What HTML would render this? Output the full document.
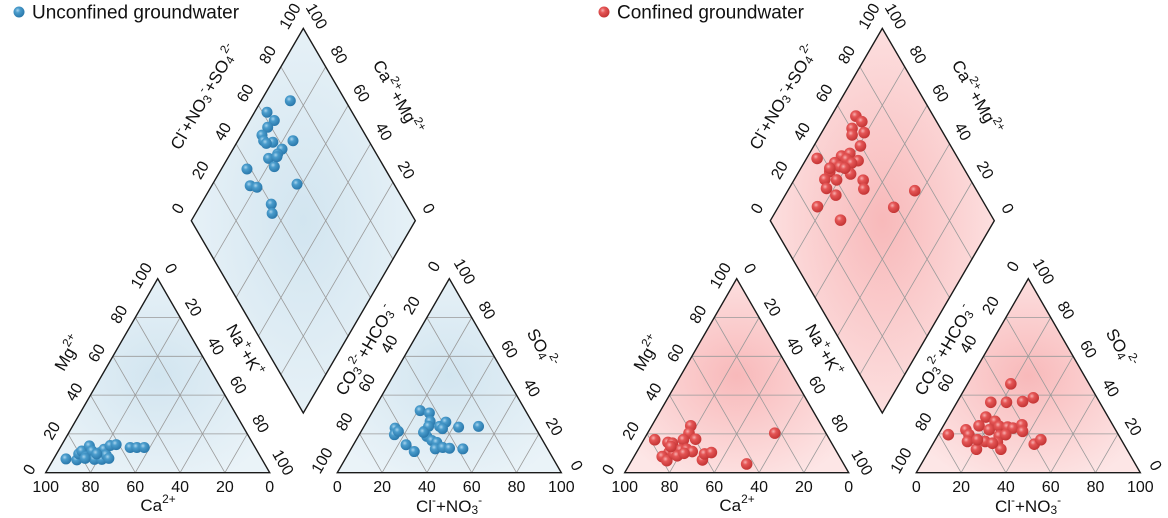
<!DOCTYPE html>
<html><head><meta charset="utf-8"><style>
html,body{margin:0;padding:0;background:#fff;}
svg{display:block;font-family:"Liberation Sans",Arial,sans-serif;}
</style></head><body>
<svg id="chart" width="1168" height="518" viewBox="0 0 1168 518" xmlns="http://www.w3.org/2000/svg">
<defs>
<radialGradient id="fillBlue" cx="50%" cy="50%" r="60%"><stop offset="0" stop-color="#d2e5f0"/><stop offset="1" stop-color="#eaf3f8"/></radialGradient>
<radialGradient id="fillRed" cx="50%" cy="50%" r="60%"><stop offset="0" stop-color="#f8b9ba"/><stop offset="1" stop-color="#fde6e6"/></radialGradient>
<radialGradient id="ballBlue" cx="38%" cy="35%" r="65%"><stop offset="0" stop-color="#a8d4ee"/><stop offset="0.35" stop-color="#4a9ccc"/><stop offset="1" stop-color="#2a78ab"/></radialGradient>
<radialGradient id="ballRed" cx="38%" cy="35%" r="65%"><stop offset="0" stop-color="#f8b0b0"/><stop offset="0.35" stop-color="#e55656"/><stop offset="1" stop-color="#c43535"/></radialGradient>
</defs>
</svg>
<script>
// ---- Unconfined (blue) data ----
const blueCatCa = [87.4,82.8,80.4,78.3,77.8,73.6,73.7,74.8,70.5,71.5,67.9,68.4,68.1,64.2,61.3,55.8,52.8,49.5,78.7,72.4];
const blueCatMg = [7.1,6.6,9.7,11.2,8.3,13.8,11.2,6.9,10.4,6.9,12.1,9.2,7.4,14.0,14.5,13.0,13.0,13.0,7.4,9.7];
const blueAnCl = [21.0,25.7,28.2,14.3,15.7,16.6,28.1,28.8,33.7,35.4,35.6,42.4,51.1,30.6,33.9,36.6,23.5,28.9,37.6,40.6,43.8,49.9,28.1];
const blueAnSO4 = [32.0,30.8,26.5,23.0,19.6,21.3,21.3,23.9,23.9,26.1,22.7,23.5,23.9,18.7,16.6,15.6,14.4,10.9,12.3,13.0,12.6,12.3,20.8];
const blueDiaCaMg = [87.0,94.4,89.0,90.2,90.7,88.5,84.0,78.1,78.8,81.7,77.0,75.4,88.6,82.8,79.4,62.3,68.6,65.8,86.6,78.4];
const blueDiaClSO4 = [75.4,62.0,63.1,58.4,53.8,53.1,56.8,59.1,55.9,50.7,51.1,66.2,38.3,35.4,38.0,56.7,40.0,38.0,53.6,54.9];
// ---- Confined (red) data ----
const redCatCa = [78.1,72.9,71.1,58.4,61.1,65.3,59.7,75.0,79.1,78.1,73.2,69.1,66.3,64.4,72.2,62.0,59.5,56.1,43.3,22.8,72.7,68.5];
const redCatMg = [17.0,15.6,15.2,24.2,20.4,17.0,17.3,10.4,8.3,6.2,9.7,11.8,12.1,10.9,8.7,6.6,9.7,10.4,4.5,20.4,13.5,10.0];
const redAnCl = [19.3,15.1,22.1,29.1,32.9,16.7,21.9,15.9,11.1,13.7,4.5,14.8,20.8,22.7,21.5,25.1,29.0,31.7,34.8,36.8,27.5,28.4,31.7,30.1,45.3,47.1,18.8,26.4];
const redAnSO4 = [45.8,36.3,36.3,36.7,38.6,28.7,26.5,24.2,22.1,19.6,19.6,16.1,12.1,16.1,22.1,23.9,23.5,23.0,24.7,21.3,19.0,15.6,12.1,19.6,14.7,17.0,17.0,15.2];
const redDiaCaMg = [89.0,84.9,87.5,85.8,81.0,79.2,95.3,85.0,82.0,86.3,82.0,76.4,86.2,83.0,78.7,76.3,86.4,81.0,69.1,83.3,66.5,77.4,43.3,48.4,82.6,68.8,87.1,80.4];
const redDiaClSO4 = [65.4,66.6,60.5,58.8,64.8,59.7,37.1,48.6,53.0,43.9,50.0,54.8,39.3,45.1,51.2,48.0,35.1,40.2,52.0,33.5,50.0,35.9,72.3,58.6,24.7,31.5,40.2,46.9];
const tickVals = [0,20,40,60,80,100];
const gridVals = [20,40,60,80];

const NS='http://www.w3.org/2000/svg';
const svg=document.getElementById('chart');
const W=224,H=194;
function el(tag,attrs,parent){const e=document.createElementNS(NS,tag);for(const k in attrs)e.setAttribute(k,attrs[k]);(parent||svg).appendChild(e);return e;}
function mkText(g,x,y,rot,parts,size,name){
  const t=el('text',{x:x,y:y,'font-size':size,'text-anchor':'middle','dominant-baseline':'central',fill:'#111',transform:'rotate('+rot+' '+x+' '+y+')'},g);
  
  
  let cur=0;
  parts.forEach(p=>{const s=el('tspan',{},t);s.textContent=p[0];
    let target=p[1]==='sup'?-6:(p[1]==='sub'?4:0);
    if(target!==cur){s.setAttribute('dy',target-cur);cur=target;}
    if(p[1]!=='n')s.setAttribute('font-size',size*0.7);});
  return t;
}
function panel(ox,color,fill,ball,d,rad){
  const g=el('g',{});
  
  
  const cat=(ca,mg)=>{const na=100-ca-mg;return [ox+45.7+(na+mg/2)/100*W,472.7-mg/100*H];};
  const an=(cl,so)=>[ox+337.3+(cl+so/2)/100*W,472.7-so/100*H];
  const B=[ox+303.3,413],u=[-112,-192.3],v=[112,-192.3];
  const dia=(a,c)=>[B[0]+a/100*u[0]+c/100*v[0],B[1]+a/100*u[1]+c/100*v[1]];
  const poly=(pts,name)=>{const p=el('polygon',{points:pts.map(q=>q.join(',')).join(' '),fill:'url(#'+fill+')',stroke:'none'},g);
    
    return p;};
  const line=(a,b,name)=>{const l=el('line',{x1:a[0],y1:a[1],x2:b[0],y2:b[1],stroke:'#9a9a9a','stroke-width':0.8},g);
    
    };
  const border=(pts,name)=>{const p=el('polygon',{points:pts.map(q=>q.join(',')).join(' '),fill:'none',stroke:'#1a1a1a','stroke-width':1.4},g);
    
    };
  const cT=[cat(100,0),cat(0,0),cat(0,100)], aT=[an(0,0),an(100,0),an(0,100)], dT=[dia(0,0),dia(100,0),dia(100,100),dia(0,100)];
  poly(cT,'cation-triangle');poly(aT,'anion-triangle');poly(dT,'diamond-field');
  gridVals.forEach(k=>{
    line(cat(100-k,k),cat(0,k),'cation-grid');line(cat(k,0),cat(k,100-k),'cation-grid');line(cat(100-k,0),cat(0,100-k),'cation-grid');
    line(an(0,k),an(100-k,k),'anion-grid');line(an(100-k,0),an(0,100-k),'anion-grid');line(an(k,0),an(k,100-k),'anion-grid');
    line(dia(k,0),dia(k,100),'diamond-grid');line(dia(0,k),dia(100,k),'diamond-grid');
  });
  border(cT,'cation-border');border(aT,'anion-border');border(dT,'diamond-border');
  const fs=16;
  tickVals.forEach(t=>{
    let p=cat(t,0);mkText(g,p[0],487,0,[[String(t),'n']],fs,'ca-tick');
    p=cat(100-t,t);mkText(g,p[0]-16,p[1]-3,-60,[[String(t),'n']],fs,'mg-tick');
    p=cat(0,100-t);mkText(g,p[0]+13,p[1]-10,60,[[String(t),'n']],fs,'na-k-tick');
    p=an(t,0);mkText(g,p[0],487,0,[[String(t),'n']],fs,'cl-tick');
    p=an(0,100-t);mkText(g,p[0]-15,p[1]-12,-60,[[String(t),'n']],fs,'hco3-tick');
    p=an(100-t,t);mkText(g,p[0]+15,p[1]-7,60,[[String(t),'n']],fs,'so4-tick');
    p=dia(100,t);mkText(g,p[0]-13,p[1]-12,-60,[[String(t),'n']],fs,'cl-so4-tick');
    p=dia(t,100);mkText(g,p[0]+13,p[1]-12,60,[[String(t),'n']],fs,'ca-mg-tick');
  });
  const ts=17;
  mkText(g,ox+68,353,-60,[['Mg','n'],['2+','sup']],ts,'mg-axis-title');
  mkText(g,ox+245,350,60,[['Na','n'],['+','sup'],['+K','n'],['+','sup']],ts,'na-k-axis-title');
  mkText(g,ox+158,505,0,[['Ca','n'],['2+','sup']],ts,'ca-axis-title');
  mkText(g,ox+365,350,-60,[['CO','n'],['3','sub'],['2-','sup'],['+HCO','n'],['3','sub'],['-','sup']],ts,'hco3-axis-title');
  mkText(g,ox+542,348,60,[['SO','n'],['4','sub'],['2-','sup']],ts,'so4-axis-title');
  mkText(g,ox+449,506,0,[['Cl','n'],['-','sup'],['+NO','n'],['3','sub'],['-','sup']],ts,'cl-no3-axis-title');
  mkText(g,ox+204,97,-60,[['Cl','n'],['-','sup'],['+NO','n'],['3','sub'],['-','sup'],['+SO','n'],['4','sub'],['2-','sup']],ts,'cl-so4-axis-title');
  mkText(g,ox+398,97,60,[['Ca','n'],['2+','sup'],['+Mg','n'],['2+','sup']],ts,'ca-mg-axis-title');
  const dot=(p,name)=>{const c=el('circle',{cx:p[0],cy:p[1],r:rad,fill:'url(#'+ball+')'},g);
    
    };
  d.catCa.forEach((ca,i)=>dot(cat(ca,d.catMg[i]),'cation-point'));
  d.anCl.forEach((cl,i)=>dot(an(cl,d.anSO4[i]),'anion-point'));
  d.diaCaMg.forEach((a,i)=>dot(dia(a,d.diaClSO4[i]),'diamond-point'));
}
panel(0,'blue','fillBlue','ballBlue',{catCa:blueCatCa,catMg:blueCatMg,anCl:blueAnCl,anSO4:blueAnSO4,diaCaMg:blueDiaCaMg,diaClSO4:blueDiaClSO4},5.5);
panel(579,'red','fillRed','ballRed',{catCa:redCatCa,catMg:redCatMg,anCl:redAnCl,anSO4:redAnSO4,diaCaMg:redDiaCaMg,diaClSO4:redDiaClSO4},5.8);
function legend(x,ball,label,name){
  const g=el('g',{});
  
  
  el('circle',{cx:x,cy:12,r:5.5,fill:'url(#'+ball+')'},g);
  const t=el('text',{x:x+13,y:18.5,'font-size':19,fill:'#111'},g);
  t.textContent=label;
}
legend(19,'ballBlue','Unconfined groundwater','legend-unconfined');
legend(604,'ballRed','Confined groundwater','legend-confined');
</script>
</body></html>
